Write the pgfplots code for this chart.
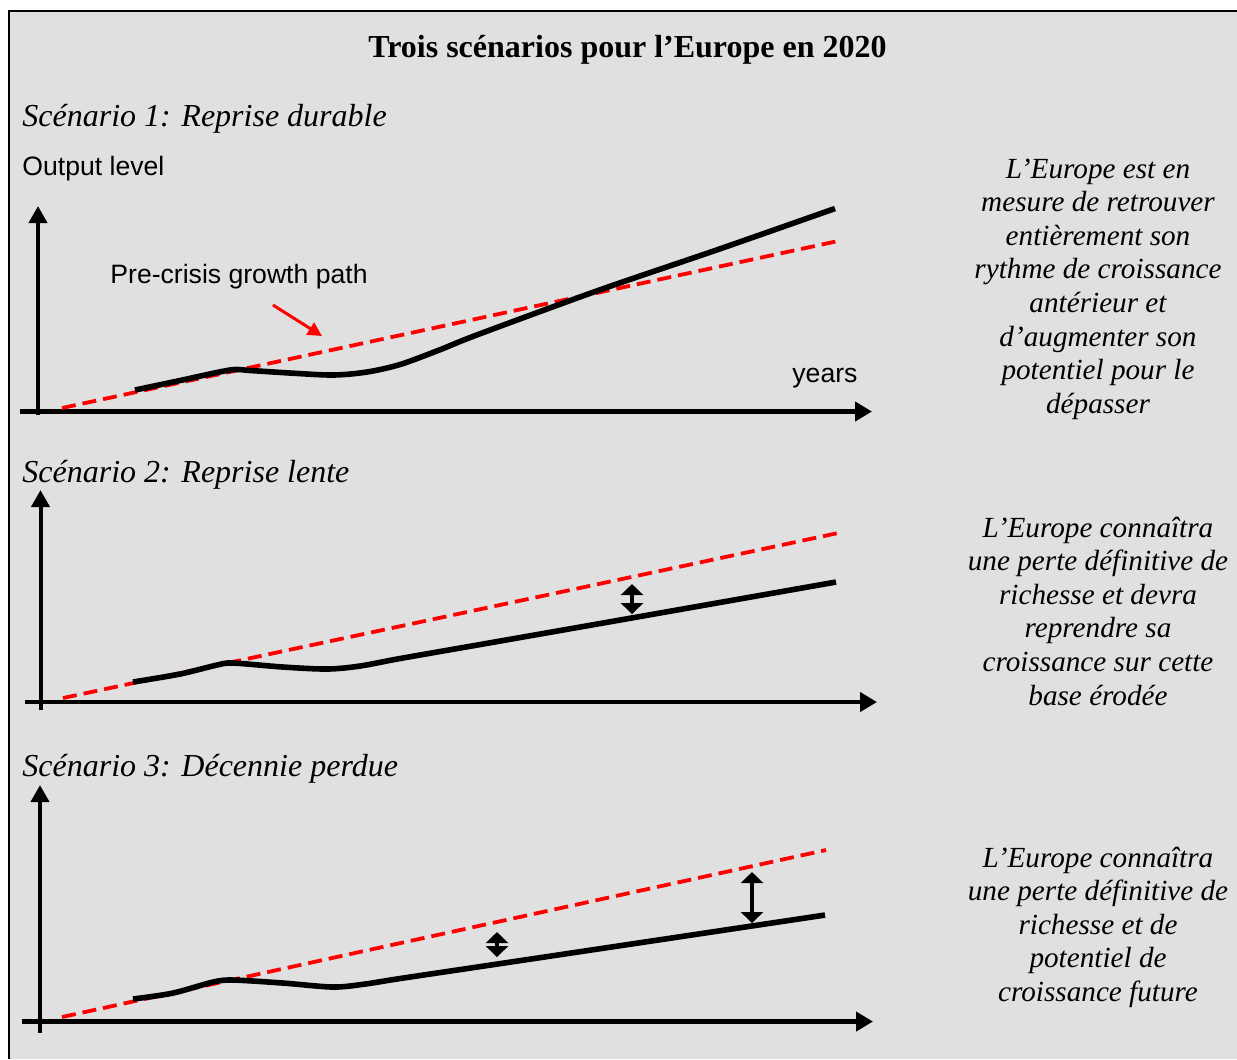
\documentclass[border=0pt]{standalone}
\usepackage{pgfplots}
\pgfplotsset{compat=1.18}
\usetikzlibrary{arrows.meta}
\usepackage{fontspec}
\setmainfont{Liberation Serif}
\newfontfamily\arial{Liberation Sans}
\definecolor{bg}{RGB}{224,224,224}

\pgfplotsset{
  panel/.style={
    x=0.5bp, y=0.5bp, anchor=south west,
    axis lines=middle, xtick=\empty, ytick=\empty,
    enlargelimits=false, clip=false,
    every inner x axis line/.append style={line width=2.1bp, -{Triangle[length=8.5bp,width=9.5bp]}},
    every inner y axis line/.append style={line width=2bp, -{Triangle[length=8.5bp,width=9bp]}},
  },
  pre/.style={red, line width=1.9bp, dash pattern=on 7bp off 3.5bp},
  act/.style={black, line width=2.8bp, smooth, tension=0.5, line join=round},
  gap/.style={black, line width=1.6bp, {Triangle[length=5.5bp,width=11bp]}-{Triangle[length=5.5bp,width=11bp]}},
}

\begin{document}
\begin{tikzpicture}
\begin{scope}[x=0.5bp,y=-0.5bp]
  \path[use as bounding box, fill=white] (0,0) rectangle (1237,1059);
  \fill[bg] (9,11) rectangle (1237,1059);
  \draw[line width=1.1bp] (9,1059) -- (9,11) -- (1237,11);
  \node[anchor=base, font=\fontsize{16bp}{19bp}\selectfont\bfseries] at (627.5,57) {Trois scénarios pour l’Europe en 2020};
  \begin{scope}[every node/.style={anchor=base west, inner sep=0pt, font=\fontsize{16bp}{19bp}\selectfont\itshape}]
    \node at (22,126) {Scénario 1: Reprise durable};
    \node at (22,482) {Scénario 2: Reprise lente};
    \node at (22,776) {Scénario 3: Décennie perdue};
  \end{scope}
  \begin{scope}[every node/.style={anchor=base west, inner sep=0pt, font=\arial\fontsize{13.3bp}{16bp}\selectfont}]
    \node at (22,175) {Output level};
    \node at (110,283) {Pre-crisis growth path};
    \node at (792,382) {years};
  \end{scope}
  \begin{scope}[every node/.style={anchor=base, inner sep=0pt, font=\fontsize{14.6bp}{17bp}\selectfont\itshape}]
    \foreach \t [count=\i] in {L’Europe est en, mesure de retrouver, entièrement son, rythme de croissance, antérieur et, d’augmenter son, potentiel pour le, dépasser}
      \node at (1098,{178+33.6*(\i-1)}) {\t};
    \foreach \t [count=\i] in {L’Europe connaîtra, une perte définitive de, richesse et devra, reprendre sa, croissance sur cette, base érodée}
      \node at (1098,{537+33.6*(\i-1)}) {\t};
    \foreach \t [count=\i] in {L’Europe connaîtra, une perte définitive de, richesse et de, potentiel de, croissance future}
      \node at (1098,{867+33.6*(\i-1)}) {\t};
  \end{scope}
\end{scope}

% Scenario 1
\begin{axis}[panel, at={(10bp,-207.5bp)}, xmin=-18, xmax=834, ymin=-3.5, ymax=205.5]
\addplot[pre] coordinates {(24,3.5) (800,170.5)};
\addplot[act] coordinates {(97,21.5) (142,31) (192,41.5) (212,41) (252,38.5) (295,36.5) (329,39.5) (362,47) (400,61) (440,77) (560,121) (680,162) (797,203)};
\addplot[red, line width=1.5bp, -{Triangle[length=7bp,width=7bp]}] coordinates {(235,106.5) (284,75.5)};
\end{axis}

% Scenario 2
\begin{axis}[panel, at={(12.5bp,-355bp)}, xmin=-15.5, xmax=836.5, ymin=-8, ymax=212]
\addplot[pre] coordinates {(22.5,4) (797.5,169)};
\addplot[act] coordinates {(92.5,20) (139.5,28) (176.5,37) (192.5,39) (242.5,35) (286.5,33) (319.5,36) (359.5,43.5) (450,59.3) (600,85.6) (795.5,120)};
\addplot[gap] coordinates {(591.5,88) (591.5,118)};
\end{axis}

% Scenario 3
\begin{axis}[panel, at={(11bp,-516.5bp)}, xmin=-18, xmax=833, ymin=-11.5, ymax=236.5]
\addplot[pre] coordinates {(22,4.5) (786,171.5)};
\addplot[act] coordinates {(93,22.5) (133,28.5) (173,39.5) (193,41.5) (243,38.5) (293,34.5) (325,37.5) (360,43) (460,57.9) (620,81.8) (785,106.5)};
\addplot[gap] coordinates {(457,64.5) (457,89.5)};
\addplot[gap] coordinates {(712,98.5) (712,149.5)};
\end{axis}
\end{tikzpicture}
\end{document}
